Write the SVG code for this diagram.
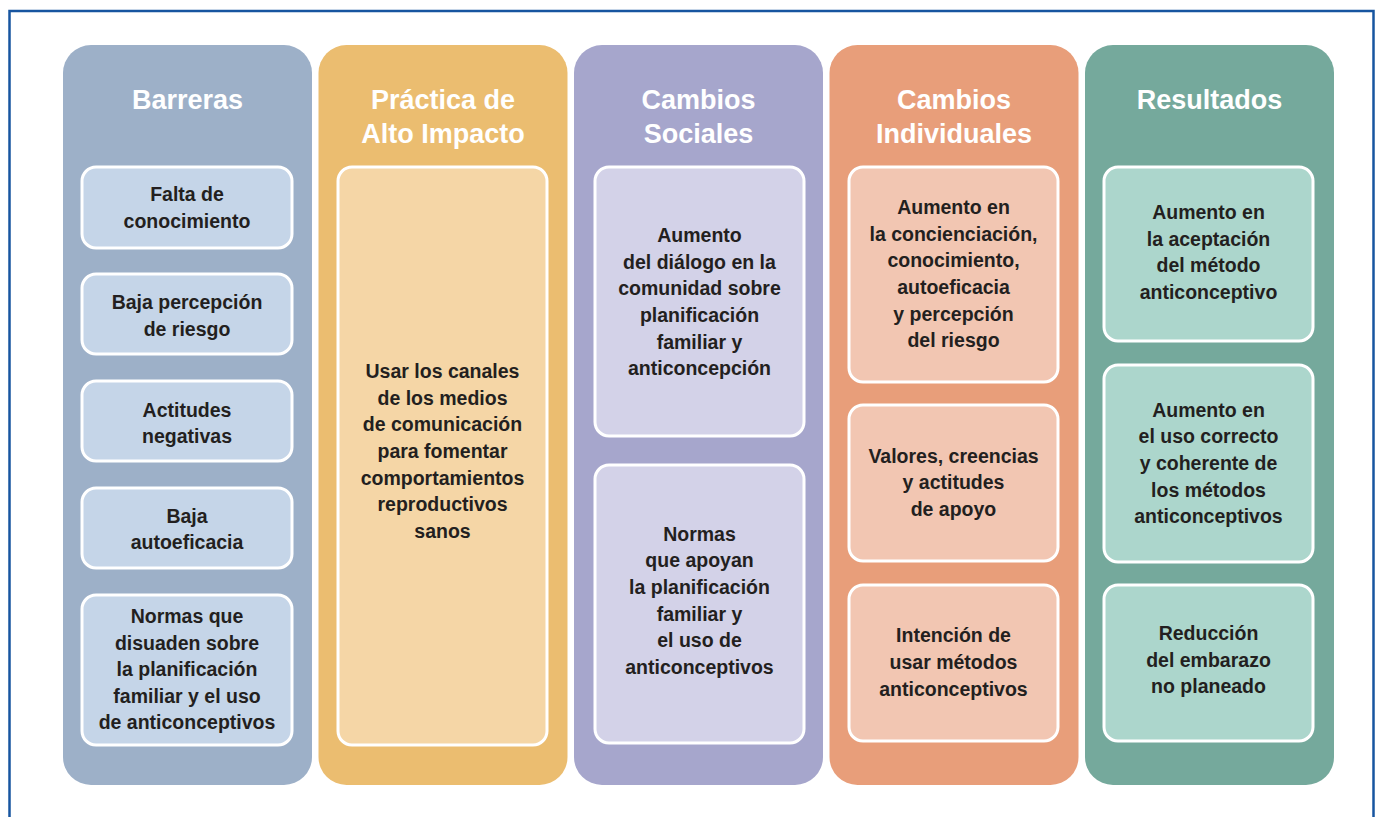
<svg xmlns="http://www.w3.org/2000/svg" width="1380" height="817" viewBox="0 0 1380 817">
<style>
.col{stroke:none}
.box{stroke:#ffffff;stroke-width:3}
.hd{font-family:"Liberation Sans",Arial,sans-serif;font-weight:bold;font-size:27px;fill:#ffffff;text-anchor:middle}
.tx{font-family:"Liberation Sans",Arial,sans-serif;font-weight:bold;font-size:19.5px;fill:#231f20;text-anchor:middle}
</style>
<rect x="0" y="0" width="1380" height="817" fill="#ffffff"/>
<rect x="9.5" y="11" width="1364" height="830" fill="none" stroke="#1755a0" stroke-width="2.5"/>

<g id="col-barreras">
<rect class="col" x="63" y="45" width="249" height="740" rx="28" fill="#9db0c8"/>
<text class="hd" x="187.5" y="109">Barreras</text>
</g>
<g id="col-practica">
<rect class="col" x="318.5" y="45" width="249" height="740" rx="28" fill="#ebbd70"/>
<text class="hd" x="443" y="109">Práctica de</text>
<text class="hd" x="443" y="143">Alto Impacto</text>
</g>
<g id="col-sociales">
<rect class="col" x="574" y="45" width="249" height="740" rx="28" fill="#a6a6cc"/>
<text class="hd" x="698.5" y="109">Cambios</text>
<text class="hd" x="698.5" y="143">Sociales</text>
</g>
<g id="col-individuales">
<rect class="col" x="829.5" y="45" width="249" height="740" rx="28" fill="#e89e7a"/>
<text class="hd" x="954" y="109">Cambios</text>
<text class="hd" x="954" y="143">Individuales</text>
</g>
<g id="col-resultados">
<rect class="col" x="1085" y="45" width="249" height="740" rx="28" fill="#75a99c"/>
<text class="hd" x="1209.5" y="109">Resultados</text>
</g>

<g id="b1">
<rect class="box" x="82" y="167" width="210" height="81" rx="14" fill="#c5d5e8"/>
<text class="tx" x="187" y="201">Falta de</text>
<text class="tx" x="187" y="228">conocimiento</text>
</g>
<g id="b2">
<rect class="box" x="82" y="274" width="210" height="80" rx="14" fill="#c5d5e8"/>
<text class="tx" x="187" y="309">Baja percepción</text>
<text class="tx" x="187" y="336">de riesgo</text>
</g>
<g id="b3">
<rect class="box" x="82" y="381" width="210" height="80" rx="14" fill="#c5d5e8"/>
<text class="tx" x="187" y="417">Actitudes</text>
<text class="tx" x="187" y="443">negativas</text>
</g>
<g id="b4">
<rect class="box" x="82" y="488" width="210" height="80" rx="14" fill="#c5d5e8"/>
<text class="tx" x="187" y="523">Baja</text>
<text class="tx" x="187" y="549">autoeficacia</text>
</g>
<g id="b5">
<rect class="box" x="82" y="595" width="210" height="150" rx="14" fill="#c5d5e8"/>
<text class="tx" x="187" y="623">Normas que</text>
<text class="tx" x="187" y="650">disuaden sobre</text>
<text class="tx" x="187" y="676">la planificación</text>
<text class="tx" x="187" y="703">familiar y el uso</text>
<text class="tx" x="187" y="729">de anticonceptivos</text>
</g>

<g id="p1">
<rect class="box" x="338" y="167" width="209" height="578" rx="14" fill="#f5d6a6"/>
<text class="tx" x="442.5" y="378">Usar los canales</text>
<text class="tx" x="442.5" y="405">de los medios</text>
<text class="tx" x="442.5" y="431">de comunicación</text>
<text class="tx" x="442.5" y="458">para fomentar</text>
<text class="tx" x="442.5" y="485">comportamientos</text>
<text class="tx" x="442.5" y="511">reproductivos</text>
<text class="tx" x="442.5" y="538">sanos</text>
</g>

<g id="s1">
<rect class="box" x="595" y="167" width="209" height="269" rx="14" fill="#d3d2e8"/>
<text class="tx" x="699.5" y="242">Aumento</text>
<text class="tx" x="699.5" y="269">del diálogo en la</text>
<text class="tx" x="699.5" y="295">comunidad sobre</text>
<text class="tx" x="699.5" y="322">planificación</text>
<text class="tx" x="699.5" y="349">familiar y</text>
<text class="tx" x="699.5" y="375">anticoncepción</text>
</g>
<g id="s2">
<rect class="box" x="595" y="465" width="209" height="278" rx="14" fill="#d3d2e8"/>
<text class="tx" x="699.5" y="541">Normas</text>
<text class="tx" x="699.5" y="567">que apoyan</text>
<text class="tx" x="699.5" y="594">la planificación</text>
<text class="tx" x="699.5" y="621">familiar y</text>
<text class="tx" x="699.5" y="647">el uso de</text>
<text class="tx" x="699.5" y="674">anticonceptivos</text>
</g>

<g id="i1">
<rect class="box" x="849" y="167" width="209" height="215" rx="14" fill="#f2c6b2"/>
<text class="tx" x="953.5" y="214">Aumento en</text>
<text class="tx" x="953.5" y="241">la concienciación,</text>
<text class="tx" x="953.5" y="267">conocimiento,</text>
<text class="tx" x="953.5" y="294">autoeficacia</text>
<text class="tx" x="953.5" y="321">y percepción</text>
<text class="tx" x="953.5" y="347">del riesgo</text>
</g>
<g id="i2">
<rect class="box" x="849" y="405" width="209" height="156" rx="14" fill="#f2c6b2"/>
<text class="tx" x="953.5" y="463">Valores, creencias</text>
<text class="tx" x="953.5" y="489">y actitudes</text>
<text class="tx" x="953.5" y="516">de apoyo</text>
</g>
<g id="i3">
<rect class="box" x="849" y="585" width="209" height="156" rx="14" fill="#f2c6b2"/>
<text class="tx" x="953.5" y="642">Intención de</text>
<text class="tx" x="953.5" y="669">usar métodos</text>
<text class="tx" x="953.5" y="696">anticonceptivos</text>
</g>

<g id="r1">
<rect class="box" x="1104" y="167" width="209" height="174" rx="14" fill="#acd6cc"/>
<text class="tx" x="1208.5" y="219">Aumento en</text>
<text class="tx" x="1208.5" y="246">la aceptación</text>
<text class="tx" x="1208.5" y="272">del método</text>
<text class="tx" x="1208.5" y="299">anticonceptivo</text>
</g>
<g id="r2">
<rect class="box" x="1104" y="365" width="209" height="197" rx="14" fill="#acd6cc"/>
<text class="tx" x="1208.5" y="417">Aumento en</text>
<text class="tx" x="1208.5" y="443">el uso correcto</text>
<text class="tx" x="1208.5" y="470">y coherente de</text>
<text class="tx" x="1208.5" y="497">los métodos</text>
<text class="tx" x="1208.5" y="523">anticonceptivos</text>
</g>
<g id="r3">
<rect class="box" x="1104" y="585" width="209" height="156" rx="14" fill="#acd6cc"/>
<text class="tx" x="1208.5" y="640">Reducción</text>
<text class="tx" x="1208.5" y="667">del embarazo</text>
<text class="tx" x="1208.5" y="693">no planeado</text>
</g>
<g id="connectors"></g>
</svg>
